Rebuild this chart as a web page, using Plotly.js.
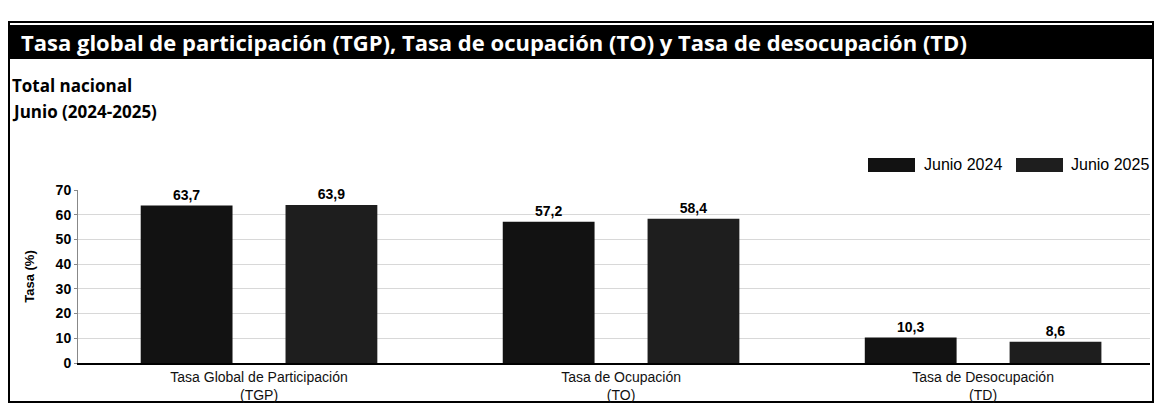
<!DOCTYPE html>
<html>
<head>
<meta charset="utf-8">
<script src="https://cdn.plot.ly/plotly-3.0.1.min.js"></script>
<style>
  html, body { margin: 0; padding: 0; background: #fff; }
  #chart { width: 1156px; height: 405px; }
</style>
</head>
<body>
<div id="chart"></div>
<script>
const categories = [
  "Tasa Global de Participación<br>(TGP)",
  "Tasa de Ocupación<br>(TO)",
  "Tasa de Desocupación<br>(TD)"
];
const seriesNames = ["Junio 2024", "Junio 2025"];
const seriesColors = ["#121212", "#1e1e1e"];
const junio2024 = [63.7, 57.2, 10.3];
const junio2025 = [63.9, 58.4, 8.6];
const yTicks = [0, 10, 20, 30, 40, 50, 60, 70];

const W = 1156, H = 405;
const M = { l: 78, r: 6, t: 190, b: 42 };
const PW = W - M.l - M.r, PH = H - M.t - M.b;
const px = x => (x - M.l) / PW;
const py = y => (H - M.b - y) / PH;

const barStyle = {
  type: 'bar',
  textposition: 'outside',
  texttemplate: '%{y:.1f}',
  textfont: { family: 'Arial, Liberation Sans, sans-serif', size: 14, color: '#000', weight: 'bold' },
  cliponaxis: false,
  hoverinfo: 'skip',
  showlegend: false
};

const traces = [junio2024, junio2025].map((vals, i) =>
  Object.assign({}, barStyle, { name: seriesNames[i], x: categories, y: vals, marker: { color: seriesColors[i] } })
);

// manual legend (wide swatches like the reference)
const legendPos = [{ sx: 868, tx: 922 }, { sx: 1016, tx: 1069 }];
const legendShapes = seriesNames.map((n, i) => ({
  type: 'rect', xref: 'paper', yref: 'paper',
  x0: px(legendPos[i].sx), x1: px(legendPos[i].sx + 47), y0: py(158), y1: py(172),
  line: { width: 0 }, fillcolor: seriesColors[i]
}));
const legendTexts = seriesNames.map((n, i) => ({
  xref: 'paper', yref: 'paper', x: px(legendPos[i].tx), y: py(164), xanchor: 'left', yanchor: 'middle',
  text: n, showarrow: false, font: { family: 'Arial, Liberation Sans, sans-serif', size: 16, color: '#000' }
}));

const layout = {
  width: W, height: H,
  margin: M,
  paper_bgcolor: '#fff', plot_bgcolor: '#fff',
  separators: ',.',
  barmode: 'group',
  bargap: 0.2,
  bargroupgap: 0.366,
  font: { family: 'Arial, Liberation Sans, sans-serif', color: '#000' },
  showlegend: false,
  xaxis: {
    type: 'category', range: [-0.5, 2.461], showgrid: false, showline: true, linecolor: '#000', linewidth: 2,
    tickfont: { size: 14, color: '#111' }, ticks: '', ticklen: 0
  },
  yaxis: {
    range: [0, 70], tickvals: yTicks, ticktext: yTicks.map(String),
    showgrid: true, gridcolor: '#d8d8d8', gridwidth: 1,
    showline: true, linecolor: '#888', linewidth: 1, zeroline: false,
    ticks: 'outside', ticklen: 3, tickcolor: '#888',
    tickfont: { size: 14, color: '#000', weight: 'bold' },
    title: { text: 'Tasa (%)', font: { size: 13, color: '#000', weight: 'bold' }, standoff: 18 }
  },
  shapes: [
    { type: 'rect', xref: 'paper', yref: 'paper', x0: px(9), x1: px(1153), y0: py(22), y1: py(402),
      line: { color: '#000', width: 2 }, fillcolor: 'rgba(0,0,0,0)', layer: 'below' },
    { type: 'rect', xref: 'paper', yref: 'paper', x0: px(9), x1: px(1153), y0: py(25), y1: py(59),
      line: { width: 0 }, fillcolor: '#000', layer: 'below' }
  ].concat(legendShapes),
  annotations: [
    { xref: 'paper', yref: 'paper', x: px(19), y: py(42), xanchor: 'left', yanchor: 'middle',
      text: 'Tasa global de participación (TGP), Tasa de ocupación (TO) y Tasa de desocupación (TD)',
      showarrow: false, font: { family: 'Open Sans, sans-serif', size: 22, color: '#fff', weight: 'bold' } },
    { xref: 'paper', yref: 'paper', x: px(10), y: py(85), xanchor: 'left', yanchor: 'middle',
      text: 'Total nacional', showarrow: false,
      font: { family: 'Open Sans, sans-serif', size: 17, color: '#000', weight: 'bold' } },
    { xref: 'paper', yref: 'paper', x: px(10), y: py(112), xanchor: 'left', yanchor: 'middle',
      text: 'Junio (2024-2025)', showarrow: false,
      font: { family: 'Open Sans, sans-serif', size: 17, color: '#000', weight: 'bold' } }
  ].concat(legendTexts)
};

Plotly.newPlot('chart', traces, layout, { displayModeBar: false, staticPlot: true });
</script>
</body>
</html>
